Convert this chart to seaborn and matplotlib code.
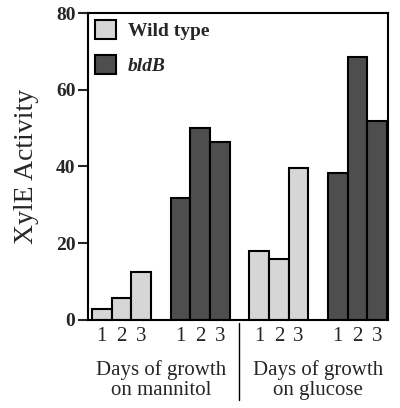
import pandas as pd
import seaborn as sns
import numpy as np
import matplotlib.pyplot as plt

# valeurs (XylE activity)
days = ['1', '2', '3']
wild_mannitol = [2.9, 5.6, 12.6]
bldb_mannitol = [31.8, 50.0, 46.4]
wild_glucose = [18.0, 15.9, 39.7]
bldb_glucose = [38.4, 68.6, 51.8]
strains = ['Wild type', 'bldB']
group_labels = ['Days of growth\non mannitol', 'Days of growth\non glucose']

# positions des barres
rows = []
series = [('Wild type', wild_mannitol), ('bldB', bldb_mannitol),
          ('Wild type', wild_glucose), ('bldB', bldb_glucose)]
for g, (strain, vals) in enumerate(series):
    for d, v in enumerate(vals):
        rows.append({'pos': g * 4 + d, 'value': v, 'strain': strain, 'day': days[d]})
df = pd.DataFrame(rows)

sns.set_style('white')
plt.rcParams['font.family'] = ['Liberation Serif', 'DejaVu Serif']

fig = plt.figure(figsize=(4, 4.08), dpi=100)
ax = fig.add_axes([0.22, 0.216, 0.75, 0.752])

sns.barplot(data=df, x='pos', y='value', hue='strain', native_scale=True,
            dodge=False, width=1.0, palette={'Wild type': '#d6d6d6', 'bldB': '#4e4e4e'},
            edgecolor='black', linewidth=1.5, ax=ax)

ax.set_xlim(-0.7, 14.55)
ax.set_ylim(0, 80)
ax.set_yticks([0, 20, 40, 60, 80])
ax.set_yticklabels(['0', '20', '40', '60', '80'], fontweight='bold', fontsize=14)
ax.tick_params(axis='y', direction='out', length=7, width=1.5, left=True, pad=2)
ax.set_xticks(df['pos'])
ax.set_xticklabels(df['day'], fontsize=15)
ax.tick_params(axis='x', length=0, pad=5)
ax.set_xlabel('')
ax.set_ylabel('XylE Activity', fontsize=20, labelpad=12)
for s in ax.spines.values():
    s.set_color('black')
    s.set_linewidth(1.5)

# libellés de groupe et séparateur
for xc, lab in zip([3, 11], group_labels):
    ax.text(xc, -0.13, lab, transform=ax.get_xaxis_transform(), ha='center',
            va='top', fontsize=15, linespacing=1.1)
ax.plot([7, 7], [-0.01, -0.26], transform=ax.get_xaxis_transform(), color='black',
        lw=1, clip_on=False)

handles, labels = ax.get_legend_handles_labels()
leg = ax.legend(handles, labels, loc='upper left', frameon=False, fontsize=14,
                handlelength=1.1, handleheight=1.1, borderaxespad=0.05,
                labelspacing=0.8, handletextpad=0.6, borderpad=0.3)
for t in leg.get_texts():
    t.set_fontweight('bold')
    if t.get_text() == 'bldB':
        t.set_fontstyle('italic')

fig.savefig('out.png', dpi=100)
